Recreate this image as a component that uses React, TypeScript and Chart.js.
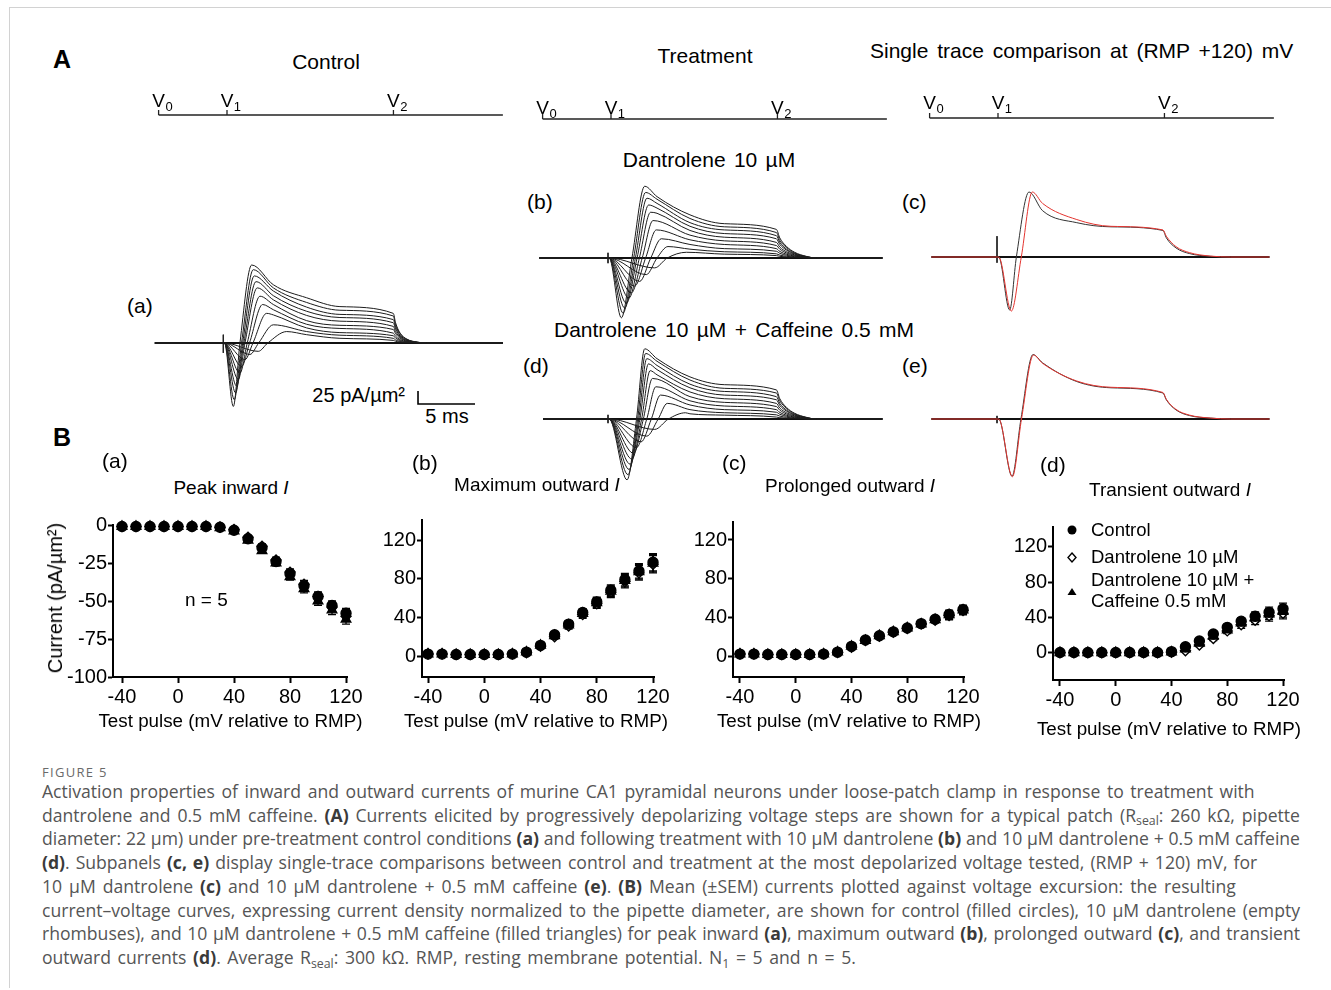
import React, { useEffect, useRef } from "react";
import { Chart, registerables } from "chart.js";

Chart.register(...registerables);

const FONT = "'Liberation Sans', Arial, Helvetica, sans-serif";
const CAPTION_FONT = "'Open Sans', 'Noto Sans', sans-serif";

// ---------------- Panel B data (test pulse in mV relative to RMP, current in pA/µm²) ----------------
const testPulse = [-40, -30, -20, -10, 0, 10, 20, 30, 40, 50, 60, 70, 80, 90, 100, 110, 120];
const xTickValues = [-40, 0, 40, 80, 120];
const inwardTickValues = [0, -25, -50, -75, -100];
const outwardTickValues = [0, 40, 80, 120];

const peakInwardControl = [-1, -1, -1, -1, -1, -1, -1, -1.5, -3.5, -9, -15, -24, -32, -40, -47, -53, -58];
const peakInwardDantrolene = [-1, -1, -1, -1, -1, -1, -1, -1.5, -3, -8, -14, -23, -31, -39, -47, -54, -60];
const peakInwardCaffeine = [-1, -1, -1, -1, -1, -1, -1, -1.8, -4, -10, -17, -25, -34, -42, -50, -56, -62];
const peakInwardSem = [0.4, 0.4, 0.4, 0.4, 0.4, 0.4, 0.4, 0.5, 0.8, 1.2, 1.5, 1.8, 2.2, 2.6, 2.8, 3, 3.2];

const maxOutwardControl = [2, 2, 1.5, 1.5, 1.5, 1.5, 2, 4, 11, 22, 33, 45, 56, 68, 79, 88, 97];
const maxOutwardDantrolene = [2, 2, 1.5, 1.5, 1.5, 1.5, 2, 3.5, 10, 20, 31, 43, 54, 66, 77, 86, 95];
const maxOutwardCaffeine = [2, 2, 1.5, 1.5, 1.5, 1.5, 2, 4, 11, 21, 32, 44, 55, 67, 78, 87, 96];
const maxOutwardSem = [0.8, 0.8, 0.8, 0.8, 0.8, 0.8, 0.8, 1, 1.8, 2.6, 3.2, 4, 4.8, 5.6, 6.5, 7.5, 9];

const prolongedControl = [2, 2, 1.5, 1.5, 1.5, 1.5, 2, 4, 10, 16.5, 21, 25, 29, 33.5, 38, 43, 48];
const prolongedDantrolene = [2, 2, 1.5, 1.5, 1.5, 1.5, 2, 3.5, 9, 16, 20.5, 24.5, 28.5, 33, 37, 42, 47];
const prolongedCaffeine = [2, 2, 1.5, 1.5, 1.5, 1.5, 2, 4, 10, 16, 21, 25, 29, 33, 37.5, 42.5, 47.5];
const prolongedSem = [0.6, 0.6, 0.6, 0.6, 0.6, 0.6, 0.6, 0.8, 1.2, 1.5, 1.7, 1.9, 2.1, 2.4, 2.8, 4.5, 4.5];

const transientControl = [0.5, 0.5, 0.5, 0.5, 0.5, 0.5, 0.5, 0.5, 1.5, 7, 13.5, 21.5, 29, 36, 41.5, 46, 50];
const transientDantrolene = [0.3, 0.3, 0.3, 0.3, 0.3, 0.3, 0.3, 0.3, 0.8, 2.5, 9, 16.5, 25, 32, 37, 42, 45];
const transientCaffeine = [0.3, 0.3, 0.3, 0.3, 0.3, 0.3, 0.3, 0.3, 1, 4.5, 11, 19, 26, 34, 39.5, 44, 47];
const transientSem = [0.4, 0.4, 0.4, 0.4, 0.4, 0.4, 0.4, 0.4, 0.6, 1.2, 1.8, 2.4, 3, 4, 5, 6, 6.5];

const xAxisTitle = "Test pulse (mV relative to RMP)";
const yAxisTitle = "Current (pA/µm²)";

// ---------------- Panel A data: [time (ms from stimulus), current (pA/µm²)] key points of traces ----------------
const controlTraces = [
  [[-6, 0], [0.1, 0], [0.88, -122], [1.46, 0], [2.49, 150], [4.39, 112], [7.31, 87], [10.23, 70], [14.91, 57], [15.11, 39], [15.51, 19], [16.11, 7.4], [17.01, 1.7], [17.8, 0], [24.5, 0]],
  [[-6, 0], [0.1, 0], [0.96, -109], [1.6, 0], [2.63, 141], [4.39, 106], [7.31, 78], [10.23, 63], [14.91, 52], [15.11, 35], [15.51, 18], [16.11, 6.8], [17.01, 1.6], [17.8, 0], [24.5, 0]],
  [[-6, 0], [0.1, 0], [1.08, -96], [1.7, 0], [2.72, 129], [4.39, 100], [7.31, 69], [10.23, 55], [14.91, 45], [15.11, 31], [15.51, 15], [16.11, 5.9], [17.01, 1.4], [17.8, 0], [24.5, 0]],
  [[-6, 0], [0.1, 0], [1.17, -83], [1.8, 0], [2.87, 118], [4.39, 91], [7.31, 61], [10.23, 49], [14.91, 39], [15.11, 27], [15.51, 13], [16.11, 5.1], [17.01, 1.2], [17.8, 0], [24.5, 0]],
  [[-6, 0], [0.1, 0], [1.32, -70], [1.9, 0], [2.98, 106], [4.39, 83], [7.31, 53], [10.23, 42], [14.91, 32], [15.11, 22], [15.51, 11], [16.11, 4.2], [17.01, 1], [17.8, 0], [24.5, 0]],
  [[-6, 0], [0.1, 0], [1.46, -58], [2.1, 0], [3.22, 90], [4.39, 74], [7.31, 43], [10.23, 34], [14.91, 26], [15.11, 18], [15.51, 9], [16.11, 3.4], [17.01, 0.8], [17.8, 0], [24.5, 0]],
  [[-6, 0], [0.1, 0], [1.61, -45], [2.3, 0], [3.45, 74], [4.39, 64], [7.31, 36], [10.23, 28], [14.91, 19], [15.11, 13], [15.51, 6.5], [16.11, 2.5], [17.01, 0.6], [17.8, 0], [24.5, 0]],
  [[-6, 0], [0.1, 0], [1.9, -32], [2.6, 0], [3.8, 57], [4.39, 54], [7.31, 29], [10.23, 20], [14.91, 14], [15.11, 9.5], [15.51, 4.8], [16.11, 1.8], [17.01, 0.4], [17.8, 0], [24.5, 0]],
  [[-6, 0], [0.1, 0], [2.34, -22], [3.1, 0], [4.39, 35], [7.31, 22], [10.23, 15], [14.91, 9], [15.11, 6], [15.51, 3], [16.11, 1.2], [17.01, 0.3], [17.8, 0], [24.5, 0]],
  [[-6, 0], [0.1, 0], [3.07, -16], [3.9, 0], [5.56, 22], [7.31, 16], [10.23, 9], [14.91, 5], [15.11, 3.4], [15.51, 1.7], [16.11, 0.7], [17.01, 0.2], [17.8, 0], [24.5, 0]],
];

const dantroleneTraces = [
  [[-6, 0], [0.1, 0], [1.17, -115], [2.1, 0], [3.22, 138], [4.3, 118], [7.19, 83], [10.2, 66], [14.77, 55], [15.07, 38.5], [15.67, 22], [16.37, 11], [17.37, 3.3], [18.27, 0], [24.06, 0]],
  [[-6, 0], [0.1, 0], [1.32, -106], [2.25, 0], [3.3, 126], [4.3, 113], [7.19, 76], [10.2, 60], [14.77, 49], [15.07, 34], [15.67, 20], [16.37, 9.8], [17.37, 2.9], [18.27, 0], [24.06, 0]],
  [[-6, 0], [0.1, 0], [1.46, -96], [2.4, 0], [3.42, 115], [4.3, 105], [7.19, 68], [10.2, 54], [14.77, 43], [15.07, 30], [15.67, 17], [16.37, 8.6], [17.37, 2.6], [18.27, 0], [24.06, 0]],
  [[-6, 0], [0.1, 0], [1.61, -87], [2.55, 0], [3.57, 102], [4.3, 96], [7.19, 61], [10.2, 47], [14.77, 37], [15.07, 26], [15.67, 15], [16.37, 7.4], [17.37, 2.2], [18.27, 0], [24.06, 0]],
  [[-6, 0], [0.1, 0], [1.84, -77], [2.75, 0], [3.74, 88], [4.3, 86], [7.19, 53], [10.2, 40], [14.77, 30], [15.07, 21], [15.67, 12], [16.37, 6], [17.37, 1.8], [18.27, 0], [24.06, 0]],
  [[-6, 0], [0.1, 0], [2.05, -67], [3.0, 0], [3.95, 72], [7.19, 44], [10.2, 33], [14.77, 24], [15.07, 17], [15.67, 9.6], [16.37, 4.8], [17.37, 1.4], [18.27, 0], [24.06, 0]],
  [[-6, 0], [0.1, 0], [2.34, -54], [3.3, 0], [4.24, 54], [7.19, 35], [10.2, 26], [14.77, 18], [15.07, 12.6], [15.67, 7.2], [16.37, 3.6], [17.37, 1.1], [18.27, 0], [24.06, 0]],
  [[-6, 0], [0.1, 0], [2.78, -45], [3.75, 0], [4.68, 37], [7.19, 26], [10.2, 18], [14.77, 13], [15.07, 9], [15.67, 5.2], [16.37, 2.6], [17.37, 0.8], [18.27, 0], [24.06, 0]],
  [[-6, 0], [0.1, 0], [3.36, -32], [4.3, 0], [5.26, 22], [7.19, 17], [10.2, 12], [14.77, 8], [15.07, 5.6], [15.67, 3.2], [16.37, 1.6], [17.37, 0.5], [18.27, 0], [24.06, 0]],
  [[-6, 0], [0.1, 0], [4.09, -19], [5.2, 0], [6.87, 11], [10.2, 7.4], [14.77, 4.6], [15.07, 3.2], [15.67, 1.8], [16.37, 0.9], [17.37, 0.3], [18.27, 0], [24.06, 0]],
];

const caffeineTraces = [
  [[-5.7, 0], [0.1, 0], [1.67, -117], [2.5, 0], [3.22, 135], [4.3, 116], [7.19, 81], [10.2, 66], [14.77, 56], [15.07, 39], [15.67, 22], [16.37, 11], [17.37, 3.4], [18.27, 0], [24.06, 0]],
  [[-5.7, 0], [0.1, 0], [1.75, -107], [2.6, 0], [3.3, 126], [4.3, 111], [7.19, 75], [10.2, 59], [14.77, 50], [15.07, 35], [15.67, 20], [16.37, 10], [17.37, 3], [18.27, 0], [24.06, 0]],
  [[-5.7, 0], [0.1, 0], [1.85, -97], [2.7, 0], [3.4, 116], [4.3, 103], [7.19, 67], [10.2, 53], [14.77, 43], [15.07, 30], [15.67, 17], [16.37, 8.6], [17.37, 2.6], [18.27, 0], [24.06, 0]],
  [[-5.7, 0], [0.1, 0], [1.95, -87], [2.8, 0], [3.55, 106], [4.3, 95], [7.19, 60], [10.2, 46], [14.77, 37], [15.07, 26], [15.67, 15], [16.37, 7.4], [17.37, 2.2], [18.27, 0], [24.06, 0]],
  [[-5.7, 0], [0.1, 0], [2.1, -77], [2.95, 0], [3.7, 93], [4.3, 85], [7.19, 52], [10.2, 39], [14.77, 30], [15.07, 21], [15.67, 12], [16.37, 6], [17.37, 1.8], [18.27, 0], [24.06, 0]],
  [[-5.7, 0], [0.1, 0], [2.25, -66], [3.1, 0], [3.9, 78], [7.19, 43], [10.2, 32], [14.77, 24], [15.07, 17], [15.67, 9.6], [16.37, 4.8], [17.37, 1.4], [18.27, 0], [24.06, 0]],
  [[-5.7, 0], [0.1, 0], [2.5, -55], [3.4, 0], [4.2, 62], [7.19, 35], [10.2, 25], [14.77, 18], [15.07, 12.6], [15.67, 7.2], [16.37, 3.6], [17.37, 1.1], [18.27, 0], [24.06, 0]],
  [[-5.7, 0], [0.1, 0], [2.9, -44], [3.8, 0], [4.6, 46], [7.19, 27], [10.2, 18], [14.77, 13], [15.07, 9.1], [15.67, 5.2], [16.37, 2.6], [17.37, 0.8], [18.27, 0], [24.06, 0]],
  [[-5.7, 0], [0.1, 0], [3.4, -33], [4.4, 0], [5.2, 30], [7.19, 18], [10.2, 12], [14.77, 8], [15.07, 5.6], [15.67, 3.2], [16.37, 1.6], [17.37, 0.5], [18.27, 0], [24.06, 0]],
  [[-5.7, 0], [0.1, 0], [4.1, -20], [5.3, 0], [6.8, 12], [7.19, 10], [10.2, 7.4], [14.77, 3.7], [15.07, 2.6], [15.67, 1.5], [16.37, 0.7], [17.37, 0.2], [18.27, 0], [24.06, 0]],
];

// single traces at (RMP +120) mV: control (black) vs treatment (red)
const compareDantControl = [[-5.76, 0], [0.15, 0], [1.11, -102], [1.7, 0], [2.81, 125], [4.0, 89], [7.0, 66], [10.0, 58], [14.56, 51], [14.85, 37], [15.7, 17.5], [16.9, 6.5], [18.7, 1.3], [20.5, 0], [23.9, 0]];
const compareDantTreated = [[-5.76, 0], [0.15, 0], [1.26, -104], [2.13, 0], [3.1, 125], [4.0, 103], [7.0, 72], [10.0, 59], [14.56, 52], [14.85, 40], [15.7, 20], [16.9, 8.3], [18.7, 1.8], [20.5, 0], [23.9, 0]];
const compareCaffControl = [[-5.76, 0], [0.15, 0], [1.32, -110], [2.1, 0], [3.16, 124], [4.0, 108], [7.0, 72], [10.0, 60], [14.56, 50], [14.85, 37], [15.7, 17.5], [16.9, 6.5], [18.7, 1.8], [20.5, 0], [23.9, 0]];
const compareCaffTreated = [[-5.76, 0], [0.15, 0], [1.35, -111], [2.15, 0], [3.2, 123], [4.0, 107], [7.0, 73], [10.0, 61], [14.56, 51], [14.85, 38], [15.7, 18.5], [16.9, 7.4], [18.7, 1.8], [20.5, 0], [23.9, 0]];

// stimulus artifacts [top, bottom] (pA/µm²)
const artifactControl = [16, -19];
const artifactDantrolene = [10, -10];
const artifactCaffeine = [8, -8];
const artifactCompareDant = [40, -11];
const artifactCompareCaff = [6, -8];

// voltage protocol (ms relative to V1)
const protocolTimes = [-6, 0, 14.6];
const protocolNames = ["0", "1", "2"];
const protocolEnd = 24.2;

// scale bar
const scaleBarCurrent = 25; // pA/µm²
const scaleBarTime = 5; // ms
const scaleBarCorner = [17.08, -117.3];

// ---------------- Layout constants ----------------
const PX_PER_MS = 11.4;
const PX_PER_UNIT = 0.52;
const TRACE_COLOR = "#1c1c1c";
const RED = "#e3342f";

type Box = { l: number; t: number; w: number; h: number };

function ChartCanvas({ box, make }: { box: Box; make: () => any }) {
  const ref = useRef<HTMLCanvasElement | null>(null);
  useEffect(() => {
    if (!ref.current) return;
    const chart = new Chart(ref.current, make());
    return () => chart.destroy();
  }, []);
  return (
    <canvas
      ref={ref}
      width={box.w}
      height={box.h}
      style={{ position: "absolute", left: box.l, top: box.t, width: box.w, height: box.h }}
    />
  );
}

const baseOptions = {
  responsive: false,
  animation: false as const,
  devicePixelRatio: 1,
  events: [] as any[],
};

function pts(arr: number[][]) {
  return arr.map(([x, y]) => ({ x, y }));
}

function traceConfig(
  traces: number[][][],
  colors: string[],
  artifact: number[],
  g: { box: Box; ref: number; base: number },
  withScaleBar = false
) {
  const { box, ref, base } = g;
  const xMin = (box.l - ref) / PX_PER_MS;
  const xMax = (box.l + box.w - ref) / PX_PER_MS;
  const yMax = (base - box.t) / PX_PER_UNIT;
  const yMin = -(box.t + box.h - base) / PX_PER_UNIT;
  const start = traces[0][0][0];
  const end = traces[0][traces[0].length - 1][0];
  const datasets: any[] = traces.map((tr, i) => ({
    data: pts(tr),
    borderColor: colors[i] || TRACE_COLOR,
    borderWidth: 1,
    pointRadius: 0,
    cubicInterpolationMode: "monotone",
    fill: false,
  }));
  datasets.push({
    data: pts([[start, 0], [end, 0]]),
    borderColor: "#111",
    borderWidth: 2,
    pointRadius: 0,
    fill: false,
  });
  datasets.push({
    data: pts([[0, artifact[0]], [0, artifact[1]]]),
    borderColor: "#222",
    borderWidth: 1,
    pointRadius: 0,
    fill: false,
  });
  if (withScaleBar) {
    const [t0, i0] = scaleBarCorner;
    datasets.push({
      data: pts([[t0, i0 + scaleBarCurrent], [t0, i0], [t0 + scaleBarTime, i0]]),
      borderColor: "#000",
      borderWidth: 1.6,
      pointRadius: 0,
      fill: false,
    });
  }
  return {
    type: "line",
    data: { datasets },
    options: {
      ...baseOptions,
      layout: { padding: 0 },
      plugins: { legend: { display: false }, tooltip: { enabled: false } },
      scales: {
        x: { type: "linear", min: xMin, max: xMax, display: false },
        y: { type: "linear", min: yMin, max: yMax, display: false },
      },
    },
  };
}

const protocolLabelPlugin = {
  id: "vlabels",
  afterDraw(chart: any, _args: any, opts: any) {
    const { ctx } = chart;
    const xs = chart.scales.x;
    ctx.save();
    ctx.fillStyle = "#000";
    ctx.textBaseline = "alphabetic";
    protocolTimes.forEach((t, i) => {
      const px = xs.getPixelForValue(t);
      ctx.font = `19px ${FONT}`;
      const w = ctx.measureText("V").width;
      ctx.textAlign = "left";
      ctx.fillText("V", px - w / 2, opts.labelY);
      ctx.font = `13px ${FONT}`;
      ctx.fillText(protocolNames[i], px + w / 2 + 0.5, opts.labelY + 4);
    });
    ctx.restore();
  },
};

function protocolConfig(box: Box, v1: number, lineY: number, labelY: number) {
  const PXU = 5;
  const xMin = (box.l - v1) / PX_PER_MS;
  const xMax = (box.l + box.w - v1) / PX_PER_MS;
  const yMax = (lineY - box.t) / PXU;
  const yMin = -(box.t + box.h - lineY) / PXU;
  const datasets: any[] = [
    {
      data: pts([[protocolTimes[0], 0], [protocolEnd, 0]]),
      borderColor: "#222",
      borderWidth: 1.6,
      pointRadius: 0,
    },
    ...protocolTimes.map((t) => ({
      data: pts([[t, 0], [t, 1]]),
      borderColor: "#222",
      borderWidth: 1.3,
      pointRadius: 0,
    })),
  ];
  return {
    type: "line",
    data: { datasets },
    options: {
      ...baseOptions,
      layout: { padding: 0 },
      plugins: { legend: { display: false }, tooltip: { enabled: false }, vlabels: { labelY: labelY - box.t } },
      scales: {
        x: { type: "linear", min: xMin, max: xMax, display: false },
        y: { type: "linear", min: yMin, max: yMax, display: false },
      },
    },
    plugins: [protocolLabelPlugin],
  };
}

const errorBarPlugin = {
  id: "errorBars",
  beforeDatasetsDraw(chart: any) {
    const { ctx } = chart;
    const xs = chart.scales.x;
    const ys = chart.scales.y;
    ctx.save();
    ctx.strokeStyle = "#000";
    ctx.lineWidth = 1.3;
    chart.data.datasets.forEach((ds: any) => {
      if (!ds.errors) return;
      ds.data.forEach((p: any, i: number) => {
        const e = ds.errors[i];
        const px = xs.getPixelForValue(p.x);
        const y1 = ys.getPixelForValue(p.y + e);
        const y2 = ys.getPixelForValue(p.y - e);
        ctx.beginPath();
        ctx.moveTo(px, y1);
        ctx.lineTo(px, y2);
        ctx.moveTo(px - 4, y1);
        ctx.lineTo(px + 4, y1);
        ctx.moveTo(px - 4, y2);
        ctx.lineTo(px + 4, y2);
        ctx.stroke();
      });
    });
    ctx.restore();
  },
};

type IVOpts = {
  control: number[];
  dantrolene: number[];
  caffeine: number[];
  sem: number[];
  xMin: number;
  xMax: number;
  yMin: number;
  yMax: number;
  yTicks: number[];
  yWidth: number;
  xHeight: number;
  padding: { top: number; right: number; left: number; bottom: number };
};

function ivConfig(o: IVOpts) {
  const mk = (values: number[], style: string, fill: string, radius: number) => ({
    data: testPulse.map((x, i) => ({ x, y: values[i] })),
    errors: o.sem,
    pointStyle: style,
    pointRadius: radius,
    backgroundColor: fill,
    borderColor: "#000",
    borderWidth: 1.4,
    clip: false,
  });
  const tickFont = { family: FONT, size: 20 };
  return {
    type: "scatter",
    data: {
      datasets: [
        mk(o.control, "circle", "#000", 5),
        mk(o.caffeine, "triangle", "#000", 5.5),
        mk(o.dantrolene, "rectRot", "#fff", 5),
      ],
    },
    options: {
      ...baseOptions,
      layout: { padding: o.padding },
      plugins: { legend: { display: false }, tooltip: { enabled: false } },
      scales: {
        x: {
          type: "linear",
          min: o.xMin,
          max: o.xMax,
          afterBuildTicks: (s: any) => {
            s.ticks = xTickValues.map((v) => ({ value: v }));
          },
          afterFit: (s: any) => {
            s.height = o.xHeight;
          },
          border: { display: true, color: "#000", width: 2 },
          grid: { display: true, drawOnChartArea: false, drawTicks: true, tickLength: 6, tickWidth: 2, tickColor: "#000", color: "#000" },
          ticks: { color: "#000", font: tickFont, padding: 2, maxRotation: 0, autoSkip: false },
          title: { display: false },
        },
        y: {
          type: "linear",
          min: o.yMin,
          max: o.yMax,
          afterBuildTicks: (s: any) => {
            s.ticks = o.yTicks.map((v) => ({ value: v }));
          },
          afterFit: (s: any) => {
            s.width = o.yWidth;
          },
          border: { display: true, color: "#000", width: 2 },
          grid: { display: true, drawOnChartArea: false, drawTicks: true, tickLength: 5, tickWidth: 2, tickColor: "#000", color: "#000" },
          ticks: { color: "#000", font: tickFont, padding: 1, autoSkip: false },
          title: { display: false },
        },
      },
    },
    plugins: [errorBarPlugin],
  };
}

// ---------------- text helpers ----------------
function Txt({
  x,
  y,
  size,
  children,
  anchor = "start",
  bold = false,
  ws = 0,
  rotate = false,
}: {
  x: number;
  y: number;
  size: number;
  children: React.ReactNode;
  anchor?: "start" | "middle" | "end";
  bold?: boolean;
  ws?: number;
  rotate?: boolean;
}) {
  if (rotate) {
    return (
      <div
        style={{
          position: "absolute",
          left: x,
          top: y,
          fontSize: size,
          lineHeight: `${size}px`,
          fontFamily: FONT,
          whiteSpace: "nowrap",
          color: "#000",
          transform: "translate(-50%, -50%) rotate(-90deg)",
        }}
      >
        {children}
      </div>
    );
  }
  const transform = anchor === "middle" ? "translateX(-50%)" : anchor === "end" ? "translateX(-100%)" : undefined;
  return (
    <div
      style={{
        position: "absolute",
        left: x,
        top: y - 0.8465 * size,
        fontSize: size,
        lineHeight: `${size}px`,
        fontFamily: FONT,
        fontWeight: bold ? 700 : 400,
        whiteSpace: "nowrap",
        wordSpacing: ws,
        color: "#000",
        transform,
      }}
    >
      {children}
    </div>
  );
}

const Sub = ({ children }: { children: React.ReactNode }) => (
  <span style={{ fontSize: "0.7em", position: "relative", top: "0.3em", lineHeight: 0 }}>{children}</span>
);
const B = ({ children }: { children: React.ReactNode }) => (
  <b style={{ fontWeight: 700, color: "#3a3a3a" }}>{children}</b>
);

const lineStyle: React.CSSProperties = { whiteSpace: "nowrap", wordSpacing: 2 };
const line4Style: React.CSSProperties = { whiteSpace: "nowrap", wordSpacing: 1.4 };
const line5Style: React.CSSProperties = { whiteSpace: "nowrap", wordSpacing: 2.4 };
const justStyle: React.CSSProperties = { whiteSpace: "nowrap", textAlign: "justify", textAlignLast: "justify" as any };

// ---------------- boxes ----------------
const boxTraceA: Box = { l: 140, t: 250, w: 380, h: 170 };
const boxTraceB: Box = { l: 530, t: 170, w: 370, h: 155 };
const boxTraceD: Box = { l: 530, t: 335, w: 370, h: 150 };
const boxTraceC: Box = { l: 920, t: 170, w: 370, h: 155 };
const boxTraceE: Box = { l: 920, t: 335, w: 370, h: 150 };
const boxProtA: Box = { l: 140, t: 85, w: 380, h: 40 };
const boxProtB: Box = { l: 530, t: 85, w: 370, h: 42 };
const boxProtC: Box = { l: 920, t: 85, w: 370, h: 42 };
const boxIVa: Box = { l: 40, t: 505, w: 330, h: 240 };
const boxIVb: Box = { l: 375, t: 505, w: 305, h: 240 };
const boxIVc: Box = { l: 685, t: 505, w: 305, h: 240 };
const boxIVd: Box = { l: 1000, t: 505, w: 320, h: 252 };

export default function App() {
  const controlColors = controlTraces.map(() => TRACE_COLOR);
  const dantColors = dantroleneTraces.map(() => TRACE_COLOR);
  const caffColors = caffeineTraces.map(() => TRACE_COLOR);
  return (
    <div style={{ position: "absolute", left: 0, top: 0, width: 1331, height: 990, background: "#fff", overflow: "hidden" }}>
      {/* frame */}
      <div
        style={{
          position: "absolute",
          left: 9,
          top: 7,
          width: 1330,
          height: 980,
          borderTop: "1px solid #d2d2d2",
          borderLeft: "1px solid #d2d2d2",
        }}
      />

      {/* ---------- Panel A text ---------- */}
      <Txt x={53} y={68} size={25} bold>
        A
      </Txt>
      <Txt x={326} y={69} size={21} anchor="middle">
        Control
      </Txt>
      <Txt x={705} y={63} size={21} anchor="middle">
        Treatment
      </Txt>
      <Txt x={870} y={58} size={21} ws={3}>
        Single trace comparison at (RMP +120) mV
      </Txt>
      <Txt x={709} y={167} size={21} anchor="middle" ws={2.5}>
        Dantrolene 10 µM
      </Txt>
      <Txt x={734} y={337} size={21} anchor="middle" ws={2.5}>
        Dantrolene 10 µM + Caffeine 0.5 mM
      </Txt>
      <Txt x={127} y={313} size={21}>
        (a)
      </Txt>
      <Txt x={527} y={209} size={21}>
        (b)
      </Txt>
      <Txt x={902} y={209} size={21}>
        (c)
      </Txt>
      <Txt x={523} y={373} size={21}>
        (d)
      </Txt>
      <Txt x={902} y={373} size={21}>
        (e)
      </Txt>
      <Txt x={405} y={402} size={20} anchor="end">
        25 pA/µm²
      </Txt>
      <Txt x={447} y={423} size={20} anchor="middle">
        5 ms
      </Txt>

      {/* protocols */}
      <ChartCanvas box={boxProtA} make={() => protocolConfig(boxProtA, 227, 115, 107)} />
      <ChartCanvas box={boxProtB} make={() => protocolConfig(boxProtB, 611, 119, 114)} />
      <ChartCanvas box={boxProtC} make={() => protocolConfig(boxProtC, 998, 118, 109)} />

      {/* traces */}
      <ChartCanvas
        box={boxTraceA}
        make={() => traceConfig(controlTraces, controlColors, artifactControl, { box: boxTraceA, ref: 223.3, base: 343 }, true)}
      />
      <ChartCanvas
        box={boxTraceB}
        make={() => traceConfig(dantroleneTraces, dantColors, artifactDantrolene, { box: boxTraceB, ref: 608, base: 258 })}
      />
      <ChartCanvas
        box={boxTraceD}
        make={() => traceConfig(caffeineTraces, caffColors, artifactCaffeine, { box: boxTraceD, ref: 608, base: 419 })}
      />
      <ChartCanvas
        box={boxTraceC}
        make={() =>
          traceConfig([compareDantTreated, compareDantControl], [RED, "#333"], artifactCompareDant, { box: boxTraceC, ref: 997, base: 257 })
        }
      />
      <ChartCanvas
        box={boxTraceE}
        make={() =>
          traceConfig([compareCaffTreated, compareCaffControl], [RED, "#333"], artifactCompareCaff, { box: boxTraceE, ref: 997, base: 419 })
        }
      />

      {/* ---------- Panel B ---------- */}
      <Txt x={53} y={446} size={25} bold>
        B
      </Txt>
      <Txt x={102} y={468} size={21}>
        (a)
      </Txt>
      <Txt x={412} y={470} size={21}>
        (b)
      </Txt>
      <Txt x={722} y={470} size={21}>
        (c)
      </Txt>
      <Txt x={1040} y={472} size={21}>
        (d)
      </Txt>
      <Txt x={231} y={494} size={19} anchor="middle">
        Peak inward <i>I</i>
      </Txt>
      <Txt x={537} y={491} size={19} anchor="middle">
        Maximum outward <i>I</i>
      </Txt>
      <Txt x={850} y={492} size={19} anchor="middle">
        Prolonged outward <i>I</i>
      </Txt>
      <Txt x={1170} y={496} size={19} anchor="middle">
        Transient outward <i>I</i>
      </Txt>

      <ChartCanvas
        box={boxIVa}
        make={() =>
          ivConfig({
            control: peakInwardControl,
            dantrolene: peakInwardDantrolene,
            caffeine: peakInwardCaffeine,
            sem: peakInwardSem,
            xMin: -46.43,
            xMax: 120.7,
            yMin: -100,
            yMax: 0,
            yTicks: inwardTickValues,
            yWidth: 73,
            xHeight: 68,
            padding: { top: 20, right: 23, left: 0, bottom: 0 },
          })
        }
      />
      <ChartCanvas
        box={boxIVb}
        make={() =>
          ivConfig({
            control: maxOutwardControl,
            dantrolene: maxOutwardDantrolene,
            caffeine: maxOutwardCaffeine,
            sem: maxOutwardSem,
            xMin: -44.27,
            xMax: 120.7,
            yMin: -21.7,
            yMax: 140.7,
            yTicks: outwardTickValues,
            yWidth: 47,
            xHeight: 68,
            padding: { top: 15, right: 26, left: 0, bottom: 0 },
          })
        }
      />
      <ChartCanvas
        box={boxIVc}
        make={() =>
          ivConfig({
            control: prolongedControl,
            dantrolene: prolongedDantrolene,
            caffeine: prolongedCaffeine,
            sem: prolongedSem,
            xMin: -45.0,
            xMax: 120.7,
            yMin: -21.7,
            yMax: 138.6,
            yTicks: outwardTickValues,
            yWidth: 48,
            xHeight: 68,
            padding: { top: 17, right: 26, left: 0, bottom: 0 },
          })
        }
      />
      <ChartCanvas
        box={boxIVd}
        make={() =>
          ivConfig({
            control: transientControl,
            dantrolene: transientDantrolene,
            caffeine: transientCaffeine,
            sem: transientSem,
            xMin: -45.0,
            xMax: 120.7,
            yMin: -30.6,
            yMax: 142.6,
            yTicks: outwardTickValues,
            yWidth: 53,
            xHeight: 77,
            padding: { top: 22, right: 36, left: 0, bottom: 0 },
          })
        }
      />

      {/* axis titles */}
      <Txt x={55} y={598} size={20} rotate>
        {yAxisTitle}
      </Txt>
      <Txt x={230.5} y={728} size={18.8} anchor="middle">
        {xAxisTitle}
      </Txt>
      <Txt x={536} y={728} size={18.8} anchor="middle">
        {xAxisTitle}
      </Txt>
      <Txt x={849} y={728} size={18.8} anchor="middle">
        {xAxisTitle}
      </Txt>
      <Txt x={1169} y={736} size={18.8} anchor="middle">
        {xAxisTitle}
      </Txt>

      <Txt x={185} y={606} size={19}>
        n = 5
      </Txt>

      {/* legend of B(d) */}
      <svg style={{ position: "absolute", left: 1062, top: 520, width: 22, height: 85 }} width={22} height={85}>
        <circle cx={10} cy={10} r={4.5} fill="#000" />
        <polygon points="10,33 14,37.5 10,42 6,37.5" fill="#fff" stroke="#000" strokeWidth={1.4} />
        <polygon points="10,68 14.5,75 5.5,75" fill="#000" />
      </svg>
      <Txt x={1091} y={537} size={18.5}>
        Control
      </Txt>
      <Txt x={1091} y={564} size={18.5}>
        Dantrolene 10 µM
      </Txt>
      <Txt x={1091} y={587} size={18.5}>
        Dantrolene 10 µM +
      </Txt>
      <Txt x={1091} y={608} size={18.5}>
        Caffeine 0.5 mM
      </Txt>

      {/* ---------- Caption ---------- */}
      <div
        style={{
          position: "absolute",
          left: 42,
          top: 765,
          fontFamily: CAPTION_FONT,
          fontSize: 13,
          lineHeight: "15px",
          letterSpacing: 1.3,
          color: "#6a6a6a",
        }}
      >
        FIGURE 5
      </div>
      <div
        style={{
          position: "absolute",
          left: 42,
          top: 780,
          width: 1258,
          fontFamily: CAPTION_FONT,
          fontSize: 17.6,
          lineHeight: "23.7px",
          color: "#555",
        }}
      >
        <div style={lineStyle}>
          Activation properties of inward and outward currents of murine CA1 pyramidal neurons under loose-patch clamp in response to treatment with
        </div>
        <div style={justStyle}>
          dantrolene and 0.5 mM caffeine. <B>(A)</B> Currents elicited by progressively depolarizing voltage steps are shown for a typical patch (R
          <Sub>seal</Sub>: 260 kΩ, pipette
        </div>
        <div style={justStyle}>
          diameter: 22 µm) under pre-treatment control conditions <B>(a)</B> and following treatment with 10 µM dantrolene <B>(b)</B> and 10 µM
          dantrolene + 0.5 mM caffeine
        </div>
        <div style={line4Style}>
          <B>(d)</B>. Subpanels <B>(c, e)</B> display single-trace comparisons between control and treatment at the most depolarized voltage tested,
          (RMP + 120) mV, for
        </div>
        <div style={line5Style}>
          10 µM dantrolene <B>(c)</B> and 10 µM dantrolene + 0.5 mM caffeine <B>(e)</B>. <B>(B)</B> Mean (±SEM) currents plotted against voltage
          excursion: the resulting
        </div>
        <div style={justStyle}>
          current–voltage curves, expressing current density normalized to the pipette diameter, are shown for control (filled circles), 10 µM
          dantrolene (empty
        </div>
        <div style={justStyle}>
          rhombuses), and 10 µM dantrolene + 0.5 mM caffeine (filled triangles) for peak inward <B>(a)</B>, maximum outward <B>(b)</B>, prolonged
          outward <B>(c)</B>, and transient
        </div>
        <div style={lineStyle}>
          outward currents <B>(d)</B>. Average R<Sub>seal</Sub>: 300 kΩ. RMP, resting membrane potential. N<Sub>1</Sub> = 5 and n = 5.
        </div>
      </div>
    </div>
  );
}
